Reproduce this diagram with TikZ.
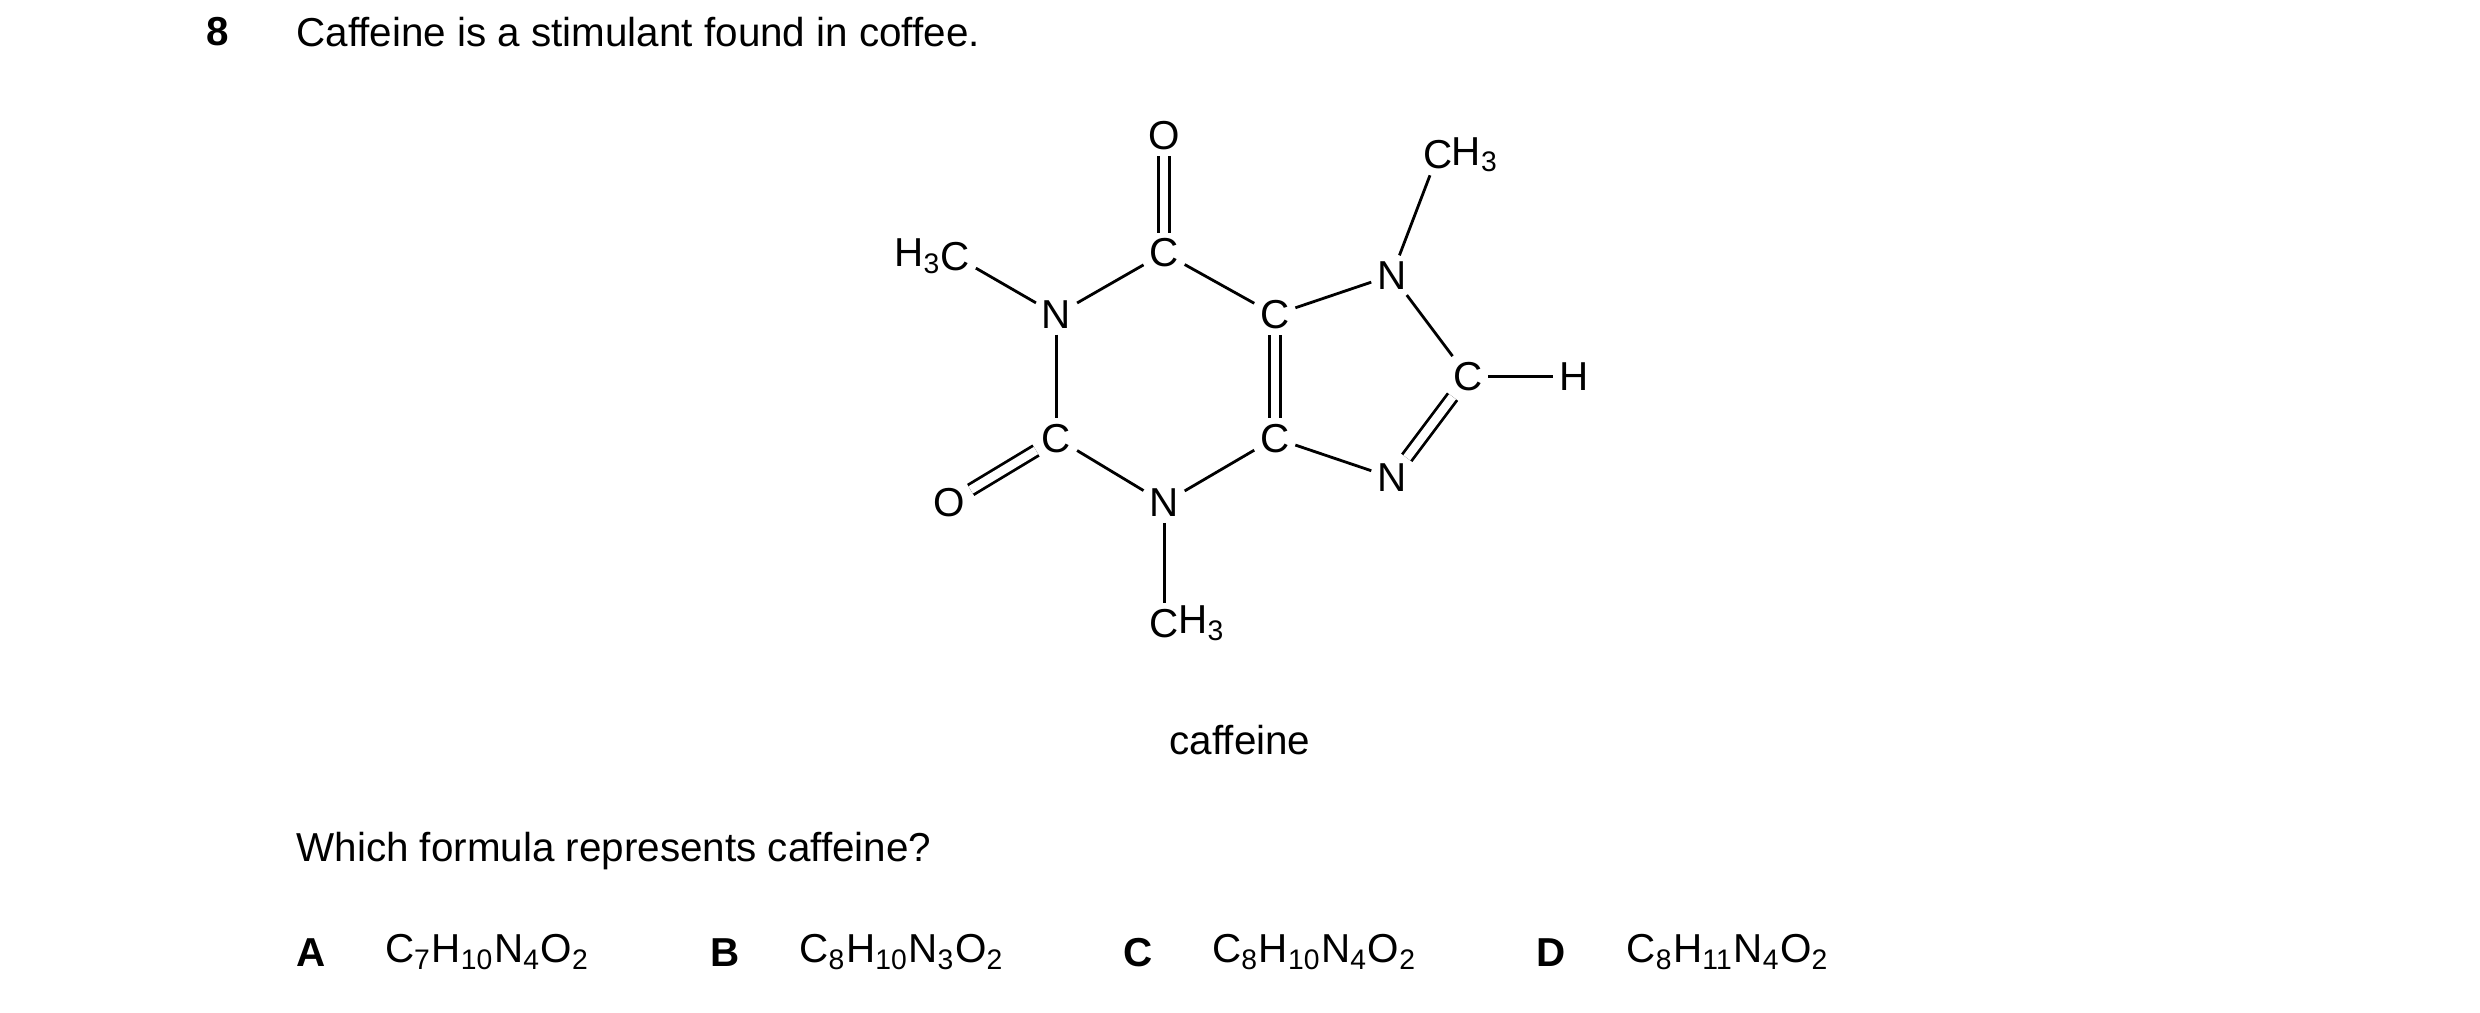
\documentclass[tikz,border=0pt]{standalone}
\usepackage{fontspec}
\setmainfont{Liberation Sans}
\usetikzlibrary{positioning}
\begin{document}
\begin{tikzpicture}
    [x=0.01582cm,y=-0.01582cm,font=\fontsize{11.5}{13}\selectfont,
     atom/.style={inner sep=1.5pt},
     bond/.style={line width=0.8pt},
     dbl/.style={line width=0.8pt,double,double distance=2.4pt},
     txt/.style={anchor=west,inner sep=0pt}]
    \useasboundingbox (0,0) rectangle (1568,640);
    \node[txt] (num) at (130,20) {\textbf{8}};
    \node[txt] (intro) at (187,20) {Caffeine is a stimulant found in coffee.};
    % ring atoms
    \node[atom] (otop) at (736,86) {O};
    \node[atom] (c6) at (736,160) {C};
    \node[atom] (n1) at (668,199) {N};
    \node[atom] (c2) at (668,277) {C};
    \node[atom] (oleft) at (600,318) {O};
    \node[atom] (n3) at (736,318) {N};
    \node[atom] (c4) at (806,277) {C};
    \node[atom] (c5) at (806,199) {C};
    \node[atom] (n7) at (880,174) {N};
    \node[atom] (c8) at (928,238) {C};
    \node[atom] (h8) at (995,238) {H};
    \node[atom] (n9) at (880,302) {N};
    % methyl groups
    \node[atom] (me1) at (604,162) {C};
    \node[atom,left=0pt of me1,xshift=3.5pt] {H\textsubscript{3}};
    \node[atom] (me3) at (736,394) {C};
    \node[atom,right=0pt of me3,xshift=-3.5pt] {H\textsubscript{3}};
    \node[atom] (me7) at (909,98) {C};
    \node[atom,right=0pt of me7,xshift=-3.5pt] {H\textsubscript{3}};
    % bonds
    \draw[dbl] (otop) -- (c6);
    \draw[bond] (c6) -- (n1);
    \draw[bond] (n1) -- (c2);
    \draw[dbl] (c2) -- (oleft);
    \draw[bond] (c2) -- (n3);
    \draw[bond] (n3) -- (c4);
    \draw[dbl] (c4) -- (c5);
    \draw[bond] (c5) -- (c6);
    \draw[bond] (c5) -- (n7);
    \draw[bond] (n7) -- (c8);
    \draw[dbl] (c8) -- (n9);
    \draw[bond] (n9) -- (c4);
    \draw[bond] (c8) -- (h8);
    \draw[bond] (me1) -- (n1);
    \draw[bond] (n3) -- (me3);
    \draw[bond] (n7) -- (me7);
    \node (name) at (784,468) {caffeine};
    % question and options
    \node[txt] (ask) at (187,538) {Which formula represents caffeine?};
    \node[txt] (la) at (187,602) {\textbf{A}};
    \node[txt] (fa) at (243,602) {C\textsubscript{7}H\textsubscript{10}N\textsubscript{4}O\textsubscript{2}};
    \node[txt] (lb) at (449,602) {\textbf{B}};
    \node[txt] (fb) at (505,602) {C\textsubscript{8}H\textsubscript{10}N\textsubscript{3}O\textsubscript{2}};
    \node[txt] (lc) at (710,602) {\textbf{C}};
    \node[txt] (fc) at (766,602) {C\textsubscript{8}H\textsubscript{10}N\textsubscript{4}O\textsubscript{2}};
    \node[txt] (ld) at (971,602) {\textbf{D}};
    \node[txt] (fd) at (1028,602) {C\textsubscript{8}H\textsubscript{11}N\textsubscript{4}O\textsubscript{2}};
\end{tikzpicture}
\end{document}
